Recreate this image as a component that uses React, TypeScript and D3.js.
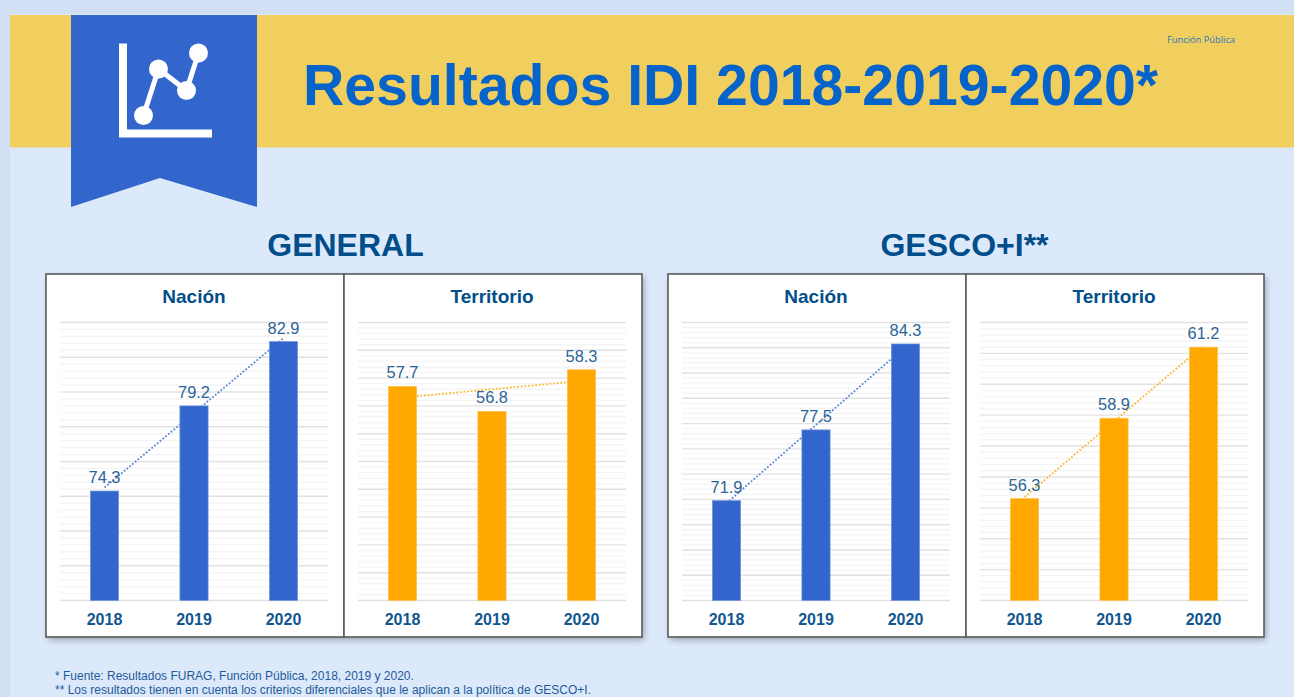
import * as d3 from 'd3';
import React, { useRef, useEffect } from 'react';

const years = ['2018', '2019', '2020'];

const generalNacion = [74.3, 79.2, 82.9];
const generalTerritorio = [57.7, 56.8, 58.3];
const gescoNacion = [71.9, 77.5, 84.3];
const gescoTerritorio = [56.3, 58.9, 61.2];

const BLUE = '#3366cc';
const ORANGE = '#ffa900';
const NAVY = '#004e8a';
const LABEL = '#2b6596';

const panels = [
    { title: 'Nación', values: generalNacion, domain: [68, 84], major: 2, color: BLUE, edge: '#6f93dc', line: '#5b86d8', left: 46 },
    { title: 'Territorio', values: generalTerritorio, domain: [50, 60], major: 1, color: ORANGE, edge: '#ffc04d', line: '#ffb52e', left: 344 },
    { title: 'Nación', values: gescoNacion, domain: [64, 86], major: 2, color: BLUE, edge: '#6f93dc', line: '#5b86d8', left: 668 },
    { title: 'Territorio', values: gescoTerritorio, domain: [53, 62], major: 1, color: ORANGE, edge: '#ffc04d', line: '#ffb52e', left: 966 },
];

const FONT = '"Liberation Sans", Arial, sans-serif';

function Panel({ title, values, domain, major, color, edge, line, left }: any) {
    const ref = useRef<SVGGElement>(null);

    useEffect(() => {
        const g = d3.select(ref.current);
        g.selectAll('*').remove();
        g.attr('transform', `translate(${left}, 274)`);

        const w = 298;
        const h = 363;
        const plot = { left: 14, right: 282, top: 48.5, bottom: 326.5 };

        const xScale = d3.scaleBand()
            .domain(years)
            .range([plot.left, plot.right])
            .paddingInner(0.685)
            .paddingOuter(0.34);
        const yScale = d3.scaleLinear()
            .domain(domain)
            .range([plot.bottom, plot.top]);
        const center = (i: number) => xScale(years[i])! + xScale.bandwidth() / 2;

        g.append('rect')
            .attr('x', 0)
            .attr('y', 0)
            .attr('width', w)
            .attr('height', h)
            .attr('fill', '#fff')
            .attr('stroke', '#5a5a5a')
            .attr('stroke-width', 1.6);

        g.append('text')
            .attr('x', w / 2 - 1)
            .attr('y', 28.7)
            .attr('text-anchor', 'middle')
            .attr('font-family', FONT)
            .attr('font-weight', 700)
            .attr('font-size', 19)
            .attr('fill', NAVY)
            .text(title);

        // grid, 5 minor steps per major step
        const minor = major / 5;
        const steps = Math.round((domain[1] - domain[0]) / minor);
        const gridValues = d3.range(steps + 1).map(i => domain[0] + i * minor);
        g.append('g')
            .selectAll('line')
            .data(gridValues)
            .enter()
            .append('line')
            .attr('x1', plot.left)
            .attr('x2', plot.right)
            .attr('y1', d => yScale(d))
            .attr('y2', d => yScale(d))
            .attr('stroke', (d, i) => (i % 5 === 0 ? '#e2e2e2' : '#f5f5f5'))
            .attr('stroke-width', 1.4);

        // the dotted line is the linear trend of the three values
        const mean = d3.mean(values as number[])!;
        const slope = (values[2] - values[0]) / 2;
        const trendValues = values.map((d: number, i: number) => mean + slope * (i - 1));
        const trend = d3.line<number>()
            .x((d, i) => center(i))
            .y(d => yScale(d));
        g.append('path')
            .attr('d', trend(trendValues))
            .attr('fill', 'none')
            .attr('stroke', line)
            .attr('stroke-width', 1.8)
            .attr('stroke-dasharray', '1.8 1.8');

        g.selectAll('.bar')
            .data(values)
            .enter()
            .append('rect')
            .attr('class', 'bar')
            .attr('x', (d, i) => xScale(years[i])!)
            .attr('y', (d: any) => yScale(d))
            .attr('width', xScale.bandwidth())
            .attr('height', (d: any) => plot.bottom - yScale(d))
            .attr('fill', color)
            .attr('stroke', edge)
            .attr('stroke-width', 0.7);

        g.selectAll('.value')
            .data(values)
            .enter()
            .append('text')
            .attr('class', 'value')
            .attr('x', (d, i) => center(i))
            .attr('y', (d: any) => yScale(d) - 8)
            .attr('text-anchor', 'middle')
            .attr('font-family', FONT)
            .attr('font-size', 16.4)
            .attr('fill', LABEL)
            .text((d: any) => d.toFixed(1));

        const xAxis = d3.axisBottom(xScale).tickSize(0).tickPadding(0);
        const xAxisDraw = g.append('g')
            .attr('transform', `translate(0, ${plot.bottom})`)
            .call(xAxis);
        xAxisDraw.select('.domain').remove();
        xAxisDraw.selectAll('text')
            .attr('y', 24)
            .attr('dy', 0)
            .attr('font-family', FONT)
            .attr('font-weight', 700)
            .attr('font-size', 16)
            .attr('fill', '#12578f');
    }, []);

    return <g ref={ref} />;
}

export default function App() {
    return (
        <svg
            width={1294}
            height={697}
            viewBox="0 0 1294 697"
            style={{ position: 'absolute', left: 0, top: 0, display: 'block' }}
        >
            <defs>
                <filter id="shadow" x="-5%" y="-5%" width="110%" height="110%">
                    <feDropShadow dx="2" dy="3" stdDeviation="3" floodColor="#000" floodOpacity="0.3" />
                </filter>
            </defs>

            <rect x={0} y={0} width={1294} height={697} fill="#d2e0f5" />
            <rect x={10} y={14} width={1284} height={683} fill="#dce9fb" />
            <rect x={10} y={15} width={1284} height={132.5} fill="#f0cf5f" />

            <path d="M71,15 H257 V207 L160,178 L71,207 Z" fill="#3366cc" />
            <g stroke="#fff" fill="none">
                <path d="M123,43.5 V133.5 H212" strokeWidth={8} />
                <path d="M143.5,115.5 L158.5,69 L186.5,90.5 L198.5,53" strokeWidth={5} />
            </g>
            <g fill="#fff">
                <circle cx={143.5} cy={115.5} r={9.5} />
                <circle cx={158.5} cy={69} r={9.5} />
                <circle cx={186.5} cy={90.5} r={9.5} />
                <circle cx={198.5} cy={53} r={9.5} />
            </g>

            <text x={303} y={105} fontFamily={FONT} fontWeight={700} fontSize={57.2} fill="#0563c9">
                Resultados IDI 2018-2019-2020*
            </text>
            <text x={1167} y={43} fontFamily='"Open Sans", sans-serif' fontSize={9.3} fill="#2f75c0">
                Función Pública
            </text>

            <text x={345.5} y={256} textAnchor="middle" fontFamily={FONT} fontWeight={700} fontSize={32} fill={NAVY}>
                GENERAL
            </text>
            <text x={964.5} y={256} textAnchor="middle" fontFamily={FONT} fontWeight={700} fontSize={32} fill={NAVY}>
                GESCO+I**
            </text>

            <rect x={46} y={274} width={596} height={363} fill="#fff" filter="url(#shadow)" />
            <rect x={668} y={274} width={596} height={363} fill="#fff" filter="url(#shadow)" />

            {panels.map((p, i) => (
                <Panel key={i} {...p} />
            ))}

            <text x={55} y={680} fontFamily={FONT} fontSize={12} fill="#1f5a9a">
                * Fuente: Resultados FURAG, Función Pública, 2018, 2019 y 2020.
            </text>
            <text x={55} y={694} fontFamily={FONT} fontSize={12} fill="#1f5a9a">
                ** Los resultados tienen en cuenta los criterios diferenciales que le aplican a la política de GESCO+I.
            </text>
        </svg>
    );
}
